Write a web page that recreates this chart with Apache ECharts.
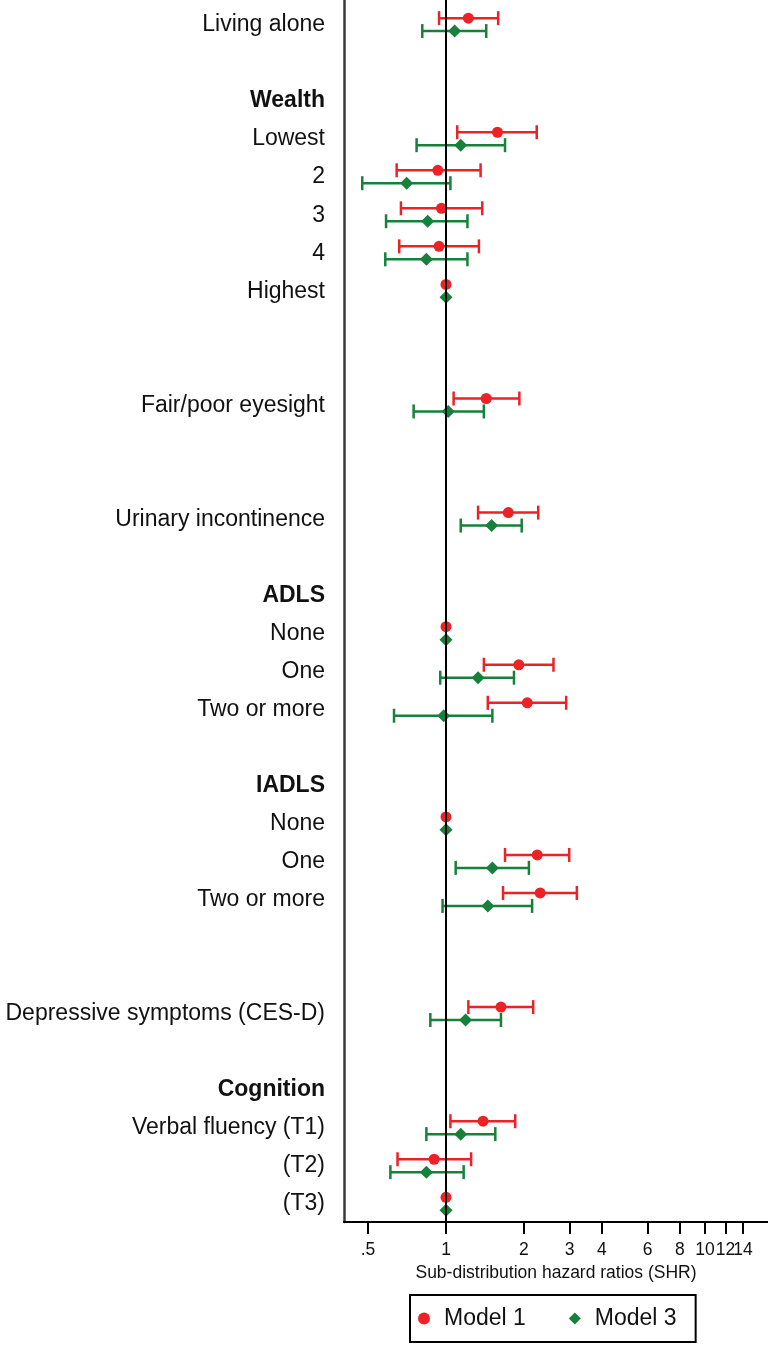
<!DOCTYPE html>
<html><head><meta charset="utf-8">
<script src="https://cdn.jsdelivr.net/npm/echarts@6/dist/echarts.min.js"></script>
<style>html,body{margin:0;padding:0;background:#fff}#c{width:768px;height:1349px}</style>
</head><body><div id="c"></div>
<script>
// Row labels (top to bottom); empty strings are blank spacer rows
const rowLabels = ['Living alone','','Wealth','Lowest','2','3','4','Highest','','',
  'Fair/poor eyesight','','','Urinary incontinence','','ADLS','None','One','Two or more','',
  'IADLS','None','One','Two or more','','','Depressive symptoms (CES-D)','','Cognition',
  'Verbal fluency (T1)','(T2)','(T3)'];
const headerLabels = ['Wealth','ADLS','IADLS','Cognition'];
const xTicks = [0.5,1,2,3,4,6,8,10,12,14];
const xTickLabels = ['.5','1','2','3','4','6','8','10','12','14'];

// Model 1 (sub-distribution hazard ratio and 95% CI), aligned with rowLabels
const m1HR = [1.22,null,null,1.58,0.93,0.96,0.94,1,null,null,1.43,null,null,1.74,null,null,1,1.91,2.06,null,null,1,2.25,2.31,null,null,1.63,null,null,1.39,0.90,1];
const m1Lo = [0.94,null,null,1.105,0.645,0.67,0.66,null,null,null,1.07,null,null,1.33,null,null,null,1.40,1.45,null,null,null,1.69,1.66,null,null,1.22,null,null,1.04,0.65,null];
const m1Hi = [1.59,null,null,2.24,1.36,1.38,1.34,null,null,null,1.92,null,null,2.27,null,null,null,2.60,2.91,null,null,null,2.99,3.20,null,null,2.17,null,null,1.85,1.25,null];
// Model 3
const m3HR = [1.08,null,null,1.14,0.705,0.85,0.84,1,null,null,1.02,null,null,1.50,null,null,1,1.33,0.98,null,null,1,1.51,1.45,null,null,1.19,null,null,1.14,0.84,1];
const m3Lo = [0.81,null,null,0.77,0.475,0.587,0.583,null,null,null,0.75,null,null,1.14,null,null,null,0.95,0.63,null,null,null,1.09,0.97,null,null,0.87,null,null,0.84,0.61,null];
const m3Hi = [1.43,null,null,1.69,1.04,1.21,1.21,null,null,null,1.40,null,null,1.96,null,null,null,1.83,1.51,null,null,null,2.09,2.15,null,null,1.63,null,null,1.55,1.17,null];

const RED = '#ec2227', GREEN = '#17803b';
const OFF1 = -0.18, OFF3 = 0.16;
const FONT = '"Liberation Sans", Arial, sans-serif';

function pts(hr, off) {
  const out = [];
  hr.forEach((v, i) => { if (v != null) out.push([v, i + off]); });
  return out;
}
function bars(lo, hi, off) {
  const out = [];
  lo.forEach((v, i) => { if (v != null && hi[i] != null) out.push([v, hi[i], i + off]); });
  return out;
}
function errRender(color) {
  return function (params, api) {
    const y = api.value(2);
    const a = api.coord([api.value(0), y]);
    const b = api.coord([api.value(1), y]);
    const h = 7;
    const st = { stroke: color, lineWidth: 2.5 };
    return { type: 'group', children: [
      { type: 'line', shape: { x1: a[0], y1: a[1], x2: b[0], y2: b[1] }, style: st },
      { type: 'line', shape: { x1: a[0], y1: a[1] - h, x2: a[0], y2: a[1] + h }, style: st },
      { type: 'line', shape: { x1: b[0], y1: b[1] - h, x2: b[0], y2: b[1] + h }, style: st }
    ]};
  };
}
const labelRows = [];
rowLabels.forEach((l, i) => { if (l) labelRows.push(i); });
// ECharts drops labels that collide; split the crowded ticks over two identical axes
const ticksA = xTicks.filter((t, i) => i % 2 === 0 || t < 8);
const ticksB = xTicks.filter(t => ticksA.indexOf(t) < 0);
const fmtX = v => { const k = xTicks.findIndex(t => Math.abs(t - v) < 1e-6); return k >= 0 ? xTickLabels[k] : ''; };

function xAxisDef(ticks, withLine, withName) {
  return {
    type: 'log', min: 0.4039, max: 17.5, position: 'bottom', gridIndex: 0,
    axisLine: { show: withLine, onZero: false, lineStyle: { color: '#000', width: 2 } },
    axisTick: { show: true, length: 12, lineStyle: { color: '#000', width: 2 }, customValues: ticks },
    axisLabel: { customValues: ticks, margin: 19, fontSize: 17.5, color: '#111', fontFamily: FONT,
      hideOverlap: false, showMinLabel: true, showMaxLabel: true, formatter: fmtX },
    splitLine: { show: false },
    name: withName ? 'Sub-distribution hazard ratios (SHR)' : '', nameLocation: 'middle', nameGap: 39,
    nameTextStyle: { fontSize: 17.5, color: '#111', fontFamily: FONT }
  };
}

const chart = echarts.init(document.getElementById('c'), null, { renderer: 'canvas' });
chart.setOption({
  animation: false,
  backgroundColor: '#fff',
  textStyle: { fontFamily: FONT },
  grid: { left: 344, right: 0, top: 0, bottom: 127, containLabel: false },
  xAxis: [xAxisDef(ticksA, true, true), xAxisDef(ticksB, false, false)],
  yAxis: {
    type: 'value', inverse: true, min: -0.657, max: 31.47,
    axisLine: { show: true, lineStyle: { color: '#3a3a3a', width: 2.5 } },
    axisTick: { show: false },
    splitLine: { show: false },
    axisLabel: { customValues: labelRows, margin: 19, fontSize: 23, color: '#111', fontFamily: FONT,
      formatter: v => { const l = rowLabels[Math.round(v)] || ''; return headerLabels.includes(l) ? '{b|' + l + '}' : l; },
      rich: { b: { fontWeight: 'bold', fontSize: 23, color: '#111', fontFamily: FONT } } }
  },
  legend: {
    data: ['Model 1', 'Model 3'], left: 410, top: 1295,
    padding: [12, 19, 12, 8], itemGap: 43, itemWidth: 12, itemHeight: 12,
    borderColor: '#000', borderWidth: 2,
    textStyle: { fontSize: 23, color: '#111', fontFamily: FONT, padding: [0, 0, 0, 9] }
  },
  series: [
    { type: 'custom', name: 'Model 1 CI', renderItem: errRender(RED), data: bars(m1Lo, m1Hi, OFF1),
      encode: { x: [0, 1], y: 2 }, z: 2, silent: true },
    { type: 'custom', name: 'Model 3 CI', renderItem: errRender(GREEN), data: bars(m3Lo, m3Hi, OFF3),
      encode: { x: [0, 1], y: 2 }, z: 2, silent: true },
    { type: 'scatter', name: 'ref', data: [], z: 3, silent: true,
      markLine: { silent: true, symbol: ['none', 'none'], label: { show: false },
        lineStyle: { color: '#000', width: 2, type: 'solid' }, data: [{ xAxis: 1 }] } },
    { type: 'scatter', name: 'Model 1', symbol: 'circle', symbolSize: 11, data: pts(m1HR, OFF1),
      itemStyle: { color: RED, opacity: 1 }, z: 4 },
    { type: 'scatter', name: 'Model 3', symbol: 'diamond', symbolSize: 13, data: pts(m3HR, OFF3),
      itemStyle: { color: GREEN, opacity: 1 }, z: 4 }
  ]
});
</script></body></html>
